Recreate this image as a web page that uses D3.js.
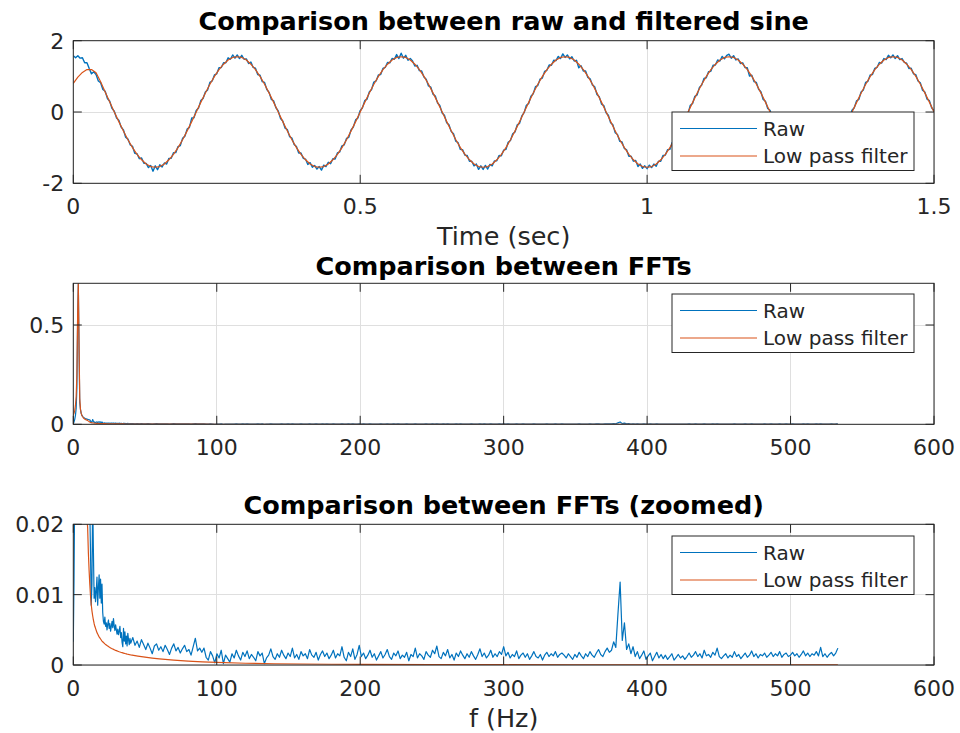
<!DOCTYPE html>
<html><head><meta charset="utf-8">
<script src="https://cdn.jsdelivr.net/npm/d3@7"></script>
<style>body{margin:0;background:#fff}</style>
</head><body>
<svg id="chart" width="960" height="733"></svg>
<script>
// ---------- data ----------
const seriesNames = ["Raw", "Low pass filter"];
const titles = ["Comparison between raw and filtered sine", "Comparison between FFTs", "Comparison between FFTs (zoomed)"];
const xLabels = ["Time (sec)", "", "f (Hz)"];

const rawTimeStepSec = 0.003968;
const rawSignal = [
1.58,1.52,1.58,1.51,1.52,1.38,1.38,1.22,1.07,1.13,1.05,0.87,0.82,0.63,0.58,0.38,0.30,0.10,0.02,-0.17,
-0.23,-0.42,-0.50,-0.71,-0.76,-0.92,-0.96,-1.16,-1.17,-1.31,-1.29,-1.44,-1.44,-1.56,-1.50,-1.66,-1.51,-1.62,-1.48,-1.54,
-1.43,-1.46,-1.30,-1.30,-1.14,-1.14,-0.97,-0.94,-0.74,-0.68,-0.48,-0.43,-0.17,-0.16,0.04,0.11,0.32,0.38,0.56,0.62,
0.83,0.87,1.04,1.07,1.24,1.25,1.38,1.38,1.52,1.48,1.60,1.51,
1.60,1.50,1.59,1.48,1.49,1.36,1.40,1.25,1.23,1.05,1.03,0.85,0.83,0.63,0.55,0.35,0.31,0.12,0.03,-0.18,
-0.25,-0.45,-0.49,-0.69,-0.73,-0.91,-0.97,-1.15,-1.15,-1.30,-1.32,-1.47,-1.42,-1.55,-1.50,-1.60,-1.53,-1.63,-1.49,-1.53,
-1.41,-1.45,-1.31,-1.32,-1.15,-1.12,-0.95,-0.92,-0.74,-0.71,-0.50,-0.42,-0.22,-0.17,0.04,0.12,0.32,0.36,0.56,0.63,
0.84,0.87,1.04,1.05,1.22,1.25,1.39,1.38,1.50,1.48,1.61,1.50,
1.65,1.51,1.59,1.45,1.50,1.43,1.29,1.31,1.16,1.15,0.98,0.92,0.73,0.70,0.50,0.45,0.25,0.18,-0.03,-0.09,
-0.30,-0.36,-0.55,-0.61,-0.82,-0.86,-1.05,-1.06,-1.21,-1.22,-1.38,-1.38,-1.51,-1.46,-1.61,-1.51,-1.61,-1.50,-1.60,-1.47,
-1.51,-1.37,-1.37,-1.22,-1.23,-1.07,-1.05,-0.85,-0.80,-0.61,-0.56,-0.36,-0.32,-0.11,-0.02,0.19,0.24,0.44,0.51,0.71,
0.74,0.92,0.95,1.14,1.17,1.32,1.31,1.45,1.44,1.56,1.50,1.63,
1.53,1.60,1.49,1.55,1.43,1.45,1.24,1.30,1.15,1.15,0.97,0.93,0.76,0.71,0.49,0.43,0.22,0.18,-0.02,-0.09,
-0.30,-0.36,-0.58,-0.63,-0.82,-0.84,-1.02,-1.06,-1.24,-1.24,-1.38,-1.36,-1.53,-1.46,-1.58,-1.51,-1.59,-1.49,-1.56,-1.46,
-1.52,-1.38,-1.38,-1.22,-1.21,-1.06,-1.05,-0.86,-0.82,-0.61,-0.55,-0.36,-0.32,-0.11,-0.04,0.19,0.24,0.44,0.48,0.69,
0.76,0.94,0.96,1.13,1.14,1.31,1.32,1.46,1.43,1.56,1.49,1.59,
1.62,1.51,1.58,1.46,1.49,1.36,1.38,1.25,1.24,1.01,1.03,0.85,0.83,0.64,0.57,0.35,0.30,0.10,0.05,-0.16,
-0.23,-0.45,-0.50,-0.70,-0.73,-0.91,-0.96,-1.15,-1.16,-1.31,-1.29,-1.44,-1.42,-1.56,-1.50,-1.59,-1.51,-1.60,-1.50,-1.55,
-1.42,-1.44,-1.29,-1.31,-1.16,-1.15,-0.96,-0.91,-0.73,-0.69,-0.49,-0.45,-0.24,-0.18,0.05,0.12,0.31,0.35,0.56,0.62,
0.83,0.86,1.04,1.05,1.22,1.25,1.39,1.37,1.50,1.47,1.59,1.52,
1.60,1.50,1.58,1.47,1.50,1.39,1.37,1.22,1.23,1.07,1.05,0.87,0.82,0.61,0.56,0.36,0.32,0.12,0.03
];

const filteredTimeStepSec = 0.007937;
const filteredSignal = [
0.80,0.98,1.11,1.19,1.19,1.10,0.85,0.56,0.28,
0,-0.27,-0.53,-0.78,-1.00,-1.19,-1.34,-1.46,-1.53,-1.55,-1.53,-1.46,-1.34,-1.19,-1.00,-0.78,-0.53,-0.27,0,0.27,0.53,0.78,1.00,1.19,1.34,1.46,1.53,
1.55,1.53,1.46,1.34,1.19,1.00,0.78,0.53,0.27,0,-0.27,-0.53,-0.78,-1.00,-1.19,-1.34,-1.46,-1.53,-1.55,-1.53,-1.46,-1.34,-1.19,-1.00,-0.78,-0.53,-0.27,0,0.27,0.53,0.78,1.00,1.19,1.34,1.46,1.53,
1.55,1.53,1.46,1.34,1.19,1.00,0.78,0.53,0.27,0,-0.27,-0.53,-0.78,-1.00,-1.19,-1.34,-1.46,-1.53,-1.55,-1.53,-1.46,-1.34,-1.19,-1.00,-0.78,-0.53,-0.27,0,0.27,0.53,0.78,1.00,1.19,1.34,1.46,1.53,
1.55,1.53,1.46,1.34,1.19,1.00,0.78,0.53,0.27,0,-0.27,-0.53,-0.78,-1.00,-1.19,-1.34,-1.46,-1.53,-1.55,-1.53,-1.46,-1.34,-1.19,-1.00,-0.78,-0.53,-0.27,0,0.27,0.53,0.78,1.00,1.19,1.34,1.46,1.53,
1.55,1.53,1.46,1.34,1.19,1.00,0.78,0.53,0.27,0,-0.27,-0.53,-0.78,-1.00,-1.19,-1.34,-1.46,-1.53,-1.55,-1.53,-1.46,-1.34,-1.19,-1.00,-0.78,-0.53,-0.27,0,0.27,0.53,0.78,1.00,1.19,1.34,1.46,1.53,
1.55,1.53,1.46,1.34,1.19,1.00,0.78,0.53,0.27,0
];

// FFT magnitudes: 0..40 Hz every 0.5 Hz
const fftFineStepHz = 0.5;
const rawFftFine = [
.0033,.012,.025,.045,.08,.18,.52,.705,.38,.11,
.075,.055,.045,.040,.036,.033,.030,.028,.027,.026,
.025,.024,.023,.022,.016,.0085,.0115,.024,.0165,.0095,
.011,.009,.0105,.0125,.0085,.011,.0128,.0095,.0122,.0088,
.0115,.0075,.0062,.0058,.0068,.0055,.0060,.0050,.0058,.0064,
.0052,.0059,.0048,.0055,.0062,.0053,.0066,.0056,.0049,.0057,
.0050,.0044,.0051,.0043,.0048,.0055,.0039,.0046,.0032,.0026,
.0052,.0034,.0047,.0030,.0041,.0027,.0045,.0036,.0029,.0038,
.0031
];
const filtFftFine = [
.047,.055,.070,.095,.14,.25,.54,.71,.40,.13,
.075,.055,.044,.038,.033,.029,.026,.024,.022,.021,
.0195,.016,.0135,.0115,.0098,.0086,.0077,.0070,.0064,.0059,
.0055,.0052,.0049,.0046,.0044,.0042,.0040,.00385,.0037,.00355,
.0034,.0033,.0032,.0031,.0030,.00292,.00284,.00276,.00269,.00262,
.00255,.00249,.00243,.00237,.00232,.00227,.00222,.00217,.00212,.00208,
.00204,.0020,.00196,.00192,.00188,.00185,.00181,.00178,.00175,.00172,
.00169,.00166,.00163,.0016,.00158,.00155,.00153,.0015,.00148,.00146,
.00144
];
// raw FFT from 41.5 Hz to 533 Hz, evenly spaced bins
const rawFftCoarseStartHz = 41.5, rawFftEndHz = 533;
const rawFftCoarse = [
.0039,.0028,.0034,.0025,.0036,.0029,.0022,.0031,.0024,.0016,.0027,.0030,.0021,
.0026,.0019,.0028,.0022,.0015,.0024,.0030,.0020,.0025,.0017,.0023,.0028,.0019,.0022,.0014,.0026,.0038,.0020,.0024,
.0018,.0024,.0011,.0007,.0019,.0013,.0003,.0016,.0010,.0021,.0002,.0014,.0009,.0004,
.0016,.0010,.0021,.0013,.0007,.0018,.0012,.0020,.0009,.0015,.0011,.0006,.0019,.0013,.0017,.0002,.0010,.0014,.0023,.0012,
.0008,.0016,.0011,.0021,.0014,.0009,.0017,.0012,.0024,.0010,.0015,.0008,.0019,.0013,.0016,.0009,.0022,.0014,.0011,.0018,
.0007,.0015,.0020,.0012,.0017,.0009,.0014,.0021,.0010,.0016,.0013,.0026,.0011,.0006,.0018,.0012,.0023,.0008,.0015,.0028,
.0012,.0017,.0009,.0014,.0021,.0011,.0016,.0007,.0013,.0019,.0010,.0015,.0022,.0012,.0008,.0017,.0013,.0020,.0009,.0014,
.0011,.0018,.0006,.0015,.0012,.0024,.0010,.0016,.0013,.0008,.0019,.0014,.0011,.0021,.0016,.0027,.0012,.0009,.0018,.0013,
.0022,.0010,.0015,.0007,.0017,.0012,.0020,.0014,.0009,.0016,.0011,.0019,.0013,.0008,.0015,.0023,.0012,.0017,.0010,.0014,
.0021,.0011,.0016,.0012,.0019,.0015,
.0026,.0013,.0018,.0010,.0015,.0012,.0020,.0009,.0014,.0017,.0011,.0016,.0008,.0013,.0019,.0012,.0010,.0015,.0007,.0014,
.0018,.0012,.0016,.0013,.0019,.0011,.0015,.0017,.0014,.0010,.0016,.0012,.0008,.0015,.0011,.0018,.0013,.0009,.0016,.0012,
.0019,.0014,.0011,.0017,.0022,.0015,.0012,.0019,.0024,.0018,.0021,
.0033,.0025,.0073,.0118,.0035,.0060,.0022,.0030,.0016,.0026,.0012,
.0019,.0009,.0014,.0020,.0008,.0013,.0017,.0006,.0012,.0018,.0010,.0015,.0009,.0014,.0008,.0012,.0016,.0007,.0011,.0015,
.0010,.0013,.0008,.0012,.0017,.0011,.0014,.0019,.0012,.0016,.0010,.0021,.0013,.0015,.0011,.0018,.0014,.0024,.0012,.0009,
.0013,.0016,.0010,.0014,.0011,.0019,.0012,.0015,.0009,.0013,.0017,.0011,.0014,.0020,.0012,.0016,.0010,.0015,.0013,.0017,
.0011,.0014,.0018,.0012,.0016,.0013,.0019,.0011,.0015,.0017,.0012,.0014,.0018,.0013,.0016,.0011,.0015,.0020,.0013,.0017,
.0012,.0016,.0014,.0019,.0013,.0025,.0012,.0016,.0011,.0015,.0018,.0013,.0017,.0024
];
const filtTailHz  = [42, 45, 50, 55, 60, 70, 80, 90, 100, 120, 140, 160, 180, 200, 250, 300, 350, 400, 450, 500, 533];
const filtTailAmp = [.00137,.00127,.00112,.00099,.00088,.0007,.00056,.00045,.00036,.00025,.00018,.00014,.00011,.00009,.00006,.00004,.00003,.00002,.00002,.00001,.00001];

const timeTicks = [0, 0.5, 1, 1.5], timeTickLabels = ["0", "0.5", "1", "1.5"];
const sineYTicks = [-2, 0, 2], sineYTickLabels = ["-2", "0", "2"];
const freqTicks = [0, 100, 200, 300, 400, 500, 600], freqTickLabels = ["0","100","200","300","400","500","600"];
const fftYTicks = [0, 0.5], fftYTickLabels = ["0", "0.5"];
const zoomYTicks = [0, 0.01, 0.02], zoomYTickLabels = ["0", "0.01", "0.02"];

// ---------- build series ----------
const rawPts = rawSignal.map((v, i) => [i * rawTimeStepSec, v]);
const filtPts = filteredSignal.map((v, i) => [i * filteredTimeStepSec, v]);
const nC = rawFftCoarse.length;
const rawFft = rawFftFine.map((v, i) => [i * fftFineStepHz, v])
  .concat(rawFftCoarse.map((v, i) => [rawFftCoarseStartHz + i * (rawFftEndHz - rawFftCoarseStartHz) / (nC - 1), v]));
const filtFft = filtFftFine.map((v, i) => [i * fftFineStepHz, v])
  .concat(filtTailHz.map((f, i) => [f, filtTailAmp[i]]));

// ---------- drawing ----------
const COLORS = ["#0072BD", "#D95319"];
const AX = "#262626", GRID = "#dfdfdf";
const FONT = "DejaVu Sans, Verdana, sans-serif";
const L = 73.3, R = 934;
const svg = d3.select("#chart").style("font-family", FONT);

const panels = [
  {top: 40.7, bottom: 183.3, xd: [0, 1.5], yd: [-2, 2], xt: timeTicks, xtl: timeTickLabels, yt: sineYTicks, ytl: sineYTickLabels,
   series: [rawPts, filtPts], title: titles[0], xlabel: xLabels[0], legendTop: 112, titleGap: 10.5},
  {top: 283.3, bottom: 424.3, xd: [0, 600], yd: [0, 0.71], xt: freqTicks, xtl: freqTickLabels, yt: fftYTicks, ytl: fftYTickLabels,
   series: [rawFft, filtFft], title: titles[1], xlabel: xLabels[1], legendTop: 294, titleGap: 8.5},
  {top: 524.3, bottom: 665, xd: [0, 600], yd: [0, 0.02], xt: freqTicks, xtl: freqTickLabels, yt: zoomYTicks, ytl: zoomYTickLabels,
   series: [rawFft, filtFft], title: titles[2], xlabel: xLabels[2], legendTop: 536, titleGap: 10}
];

panels.forEach((p, pi) => {
  const x = d3.scaleLinear().domain(p.xd).range([L, R]);
  const y = d3.scaleLinear().domain(p.yd).range([p.bottom, p.top]);
  const g = svg.append("g");
  const clipId = "clip" + pi;
  svg.append("clipPath").attr("id", clipId).append("rect")
    .attr("x", L).attr("y", p.top).attr("width", R - L).attr("height", p.bottom - p.top);

  // grid
  g.selectAll(".gx").data(p.xt).enter().append("line")
    .attr("x1", d => x(d)).attr("x2", d => x(d)).attr("y1", p.top).attr("y2", p.bottom)
    .attr("stroke", GRID).attr("stroke-width", 1).attr("shape-rendering", "crispEdges");
  g.selectAll(".gy").data(p.yt).enter().append("line")
    .attr("y1", d => y(d)).attr("y2", d => y(d)).attr("x1", L).attr("x2", R)
    .attr("stroke", GRID).attr("stroke-width", 1).attr("shape-rendering", "crispEdges");

  // series
  const line = d3.line().x(d => x(d[0])).y(d => y(d[1]));
  const sg = g.append("g").attr("clip-path", `url(#${clipId})`);
  p.series.forEach((s, si) => {
    sg.append("path").datum(s).attr("d", line).attr("fill", "none")
      .attr("stroke", COLORS[si]).attr("stroke-width", si === 0 && pi === 0 ? 1.4 : 1.2).attr("stroke-linejoin", "round");
  });

  // box
  g.append("rect").attr("x", L).attr("y", p.top).attr("width", R - L).attr("height", p.bottom - p.top)
    .attr("fill", "none").attr("stroke", AX).attr("stroke-width", 1);

  // ticks (inside, all sides)
  const TL = 8.5;
  p.xt.forEach(t => {
    g.append("line").attr("x1", x(t)).attr("x2", x(t)).attr("y1", p.bottom).attr("y2", p.bottom - TL).attr("stroke", AX);
    g.append("line").attr("x1", x(t)).attr("x2", x(t)).attr("y1", p.top).attr("y2", p.top + TL).attr("stroke", AX);
  });
  p.yt.forEach(t => {
    g.append("line").attr("y1", y(t)).attr("y2", y(t)).attr("x1", L).attr("x2", L + TL).attr("stroke", AX);
    g.append("line").attr("y1", y(t)).attr("y2", y(t)).attr("x1", R).attr("x2", R - TL).attr("stroke", AX);
  });

  // tick labels
  g.selectAll(".xtl").data(p.xt).enter().append("text")
    .attr("x", d => x(d)).attr("y", p.bottom + 31).attr("text-anchor", "middle")
    .attr("font-size", 22).attr("fill", AX).text((d, i) => p.xtl[i]);
  g.selectAll(".ytl").data(p.yt).enter().append("text")
    .attr("x", L - 9).attr("y", d => y(d)).attr("dy", "0.36em").attr("text-anchor", "end")
    .attr("font-size", 22).attr("fill", AX).text((d, i) => p.ytl[i]);

  // title
  g.append("text").attr("x", (L + R) / 2).attr("y", p.top - p.titleGap).attr("text-anchor", "middle")
    .attr("font-size", 25.5).attr("font-weight", "bold").attr("fill", "#000").text(p.title);

  // x label
  if (p.xlabel) {
    g.append("text").attr("x", (L + R) / 2).attr("y", p.bottom + 61.5).attr("text-anchor", "middle")
      .attr("font-size", 25.5).attr("fill", AX).text(p.xlabel);
  }

  // legend
  const lg = g.append("g").attr("transform", `translate(672,${p.legendTop})`);
  lg.append("rect").attr("width", 242).attr("height", 58.5).attr("fill", "#fff").attr("stroke", AX).attr("stroke-width", 1);
  seriesNames.forEach((n, i) => {
    const yy = 16.5 + i * 27.5;
    lg.append("line").attr("x1", 8).attr("x2", 85).attr("y1", yy).attr("y2", yy)
      .attr("stroke", COLORS[i]).attr("stroke-width", 1.2);
    lg.append("text").attr("x", 91).attr("y", yy).attr("dy", "0.36em").attr("font-size", 20)
      .attr("fill", AX).text(n);
  });
});
</script>
</body></html>
